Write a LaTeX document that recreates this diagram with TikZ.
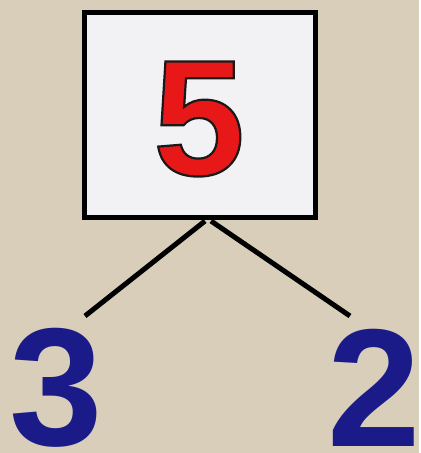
\documentclass[tikz,border=0pt]{standalone}
\usepackage{fontspec}
\setmainfont{Liberation Sans}
\usepackage{xcolor}
\definecolor{canvas}{RGB}{216,206,186}
\definecolor{boxwhite}{RGB}{242,242,244}
\definecolor{numred}{RGB}{232,24,24}
\definecolor{numblue}{RGB}{26,26,136}
\newcommand{\outlined}[1]{\special{pdf:code q 2 Tr 2.2 w 0.1 0.1 0.1 RG}#1\special{pdf:code Q}}

\begin{document}
\begin{tikzpicture}[x=1pt,y=-1pt]

\fill[canvas] (0,0) rectangle (419,453);

\node[draw=black, line width=5pt, fill=boxwhite, minimum width=231pt, minimum height=205pt, inner sep=0pt] (whole) at (200,115) {};
\node[inner sep=0pt] (five) at (199,119) {\fontsize{165}{165}\selectfont\bfseries\textcolor{numred}{\outlined{5}}};

\node[inner sep=0pt] (three) at (56,388) {\fontsize{168}{168}\selectfont\bfseries\textcolor{numblue}{3}};
\node[inner sep=0pt] (two) at (374,388) {\fontsize{168}{168}\selectfont\bfseries\textcolor{numblue}{2}};

\coordinate (forkL) at (205,221);
\coordinate (forkR) at (211,221);
\coordinate (endL) at (85,316);
\coordinate (endR) at (350,316);

\draw[line width=5pt] (forkL)--(endL);
\draw[line width=5pt] (forkR)--(endR);

\end{tikzpicture}
\end{document}
